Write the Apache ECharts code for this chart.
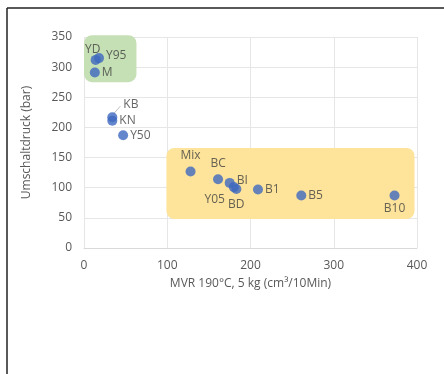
<!DOCTYPE html>
<html><head><meta charset="utf-8">
<script src="https://cdn.jsdelivr.net/npm/echarts@6/dist/echarts.min.js"></script>
<style>html,body{margin:0;padding:0;background:#fff}#c{width:444px;height:374px}</style>
</head><body><div id="c"></div>
<script>
const names = ['YD','Y95','M','KB','KN','Y50','Mix','BC','BI','Y05','BD','B1','B5','B10'];
const mvr   = [14, 18, 13, 34, 34, 47, 128, 161, 175, 180, 183, 209, 261, 373];
const druck = [312, 315, 291, 217, 211, 187, 127, 114, 108, 101, 98, 97, 87, 87];
const xTicks = [0, 100, 200, 300, 400];
const yTicks = [0, 50, 100, 150, 200, 250, 300, 350];
// highlight boxes: [xmin, xmax, ymin, ymax]
const greenBox = [0, 63, 275, 353];
const yellowBox = [99, 397, 48, 166];

const FONT = 'Open Sans';
const labelStyle = {
  YD:  {position:'top', offset:[-3,6]},
  Y95: {position:'right', offset:[-3,-3]},
  M:   {position:'right', offset:[-3,0]},
  KB:  {position:'right', offset:[1,-13]},
  KN:  {position:'right', offset:[-3,0]},
  Y50: {position:'right', offset:[-3,0]},
  Mix: {position:'top', offset:[0,0]},
  BC:  {position:'top', offset:[0,0]},
  BI:  {position:'right', offset:[-3,-2]},
  Y05: {position:'left', offset:[1,12]},
  BD:  {position:'bottom', offset:[0,0]},
  B1:  {position:'right', offset:[-3,0]},
  B5:  {position:'right', offset:[-3,0]},
  B10: {position:'bottom', offset:[0,-3]}
};

const pts = names.map((n,i)=>({name:n, value:[mvr[i], druck[i]], label:Object.assign({show:true, formatter:n}, labelStyle[n])}));

const chart = echarts.init(document.getElementById('c'));
function boxSeries(box, color){
  return {
    type:'custom', silent:true, z:1,
    data:[box],
    renderItem:(params, api)=>{
      const p1 = api.coord([api.value(0), api.value(3)]);
      const p2 = api.coord([api.value(1), api.value(2)]);
      return {type:'rect', shape:{x:p1[0], y:p1[1], width:p2[0]-p1[0], height:p2[1]-p1[1], r:8}, style:{fill:color}};
    },
    encode:{x:[0,1], y:[2,3]}
  };
}
chart.setOption({
  animation:false,
  backgroundColor:'#fff',
  grid:{left:84, right:27, top:37, bottom:126},
  xAxis:{
    type:'value', min:xTicks[0], max:xTicks[xTicks.length-1], interval:100,
    name:'MVR 190°C, 5 kg (cm³/10Min)', nameLocation:'middle', nameGap:30,
    nameTextStyle:{color:'#595959', fontSize:12, fontFamily:FONT},
    axisLine:{show:true, lineStyle:{color:'#d9d9d9'}}, axisTick:{show:false},
    axisLabel:{color:'#595959', fontSize:12, fontFamily:FONT, margin:12},
    splitLine:{show:true, lineStyle:{color:'#e6e6e6'}}
  },
  yAxis:{
    type:'value', min:yTicks[0], max:yTicks[yTicks.length-1], interval:50,
    name:'Umschaltdruck (bar)', nameLocation:'middle', nameGap:51,
    nameTextStyle:{color:'#595959', fontSize:12, fontFamily:FONT},
    axisLine:{show:false}, axisTick:{show:false},
    axisLabel:{color:'#595959', fontSize:12, fontFamily:FONT, margin:12},
    splitLine:{show:true, lineStyle:{color:'#e6e6e6'}}
  },
  series:[
    boxSeries(greenBox, '#c5e0b4'),
    boxSeries(yellowBox, '#fde49a'),
    {
      type:'scatter', z:3, symbolSize:10, data:pts,
      itemStyle:{color:'#3d68bf'},
      label:{color:'#404040', fontSize:12, fontFamily:FONT},
      labelLine:{show:false}
    }
  ],
  graphic:[
    {type:'line', shape:{x1:7, y1:8, x2:444, y2:8}, style:{stroke:'#222', lineWidth:1.5}},
    {type:'line', shape:{x1:7, y1:8, x2:7, y2:374}, style:{stroke:'#222', lineWidth:1.5}}
  ]
});
// leader line for KB label, positioned via axis conversion
const kbIdx = names.indexOf('KB');
const a = chart.convertToPixel({gridIndex:0}, [mvr[kbIdx], druck[kbIdx]]);
chart.setOption({graphic:[{},{},{type:'line', shape:{x1:a[0]+1, y1:a[1]-3, x2:a[0]+8, y2:a[1]-11}, style:{stroke:'#bfbfbf', lineWidth:1}}]});
</script></body></html>
